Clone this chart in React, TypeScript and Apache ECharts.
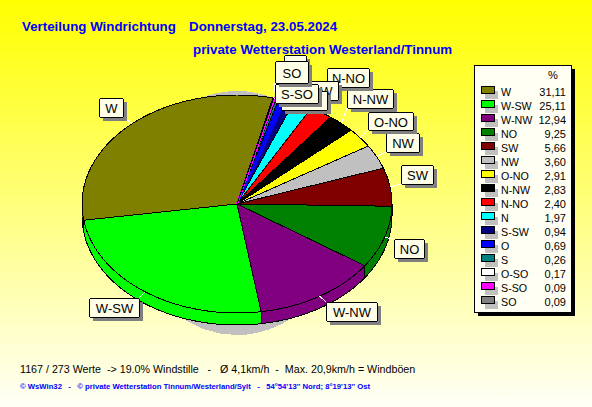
import React, { useEffect, useRef } from "react";
import * as echarts from "echarts";

const categories = ["W", "W-SW", "W-NW", "NO", "SW", "NW", "O-NO", "N-NW", "N-NO", "N", "S-SW", "O", "S", "O-SO", "S-SO", "SO"];
const percentValues = [31.11, 25.11, 12.94, 9.25, 5.66, 3.6, 2.91, 2.83, 2.4, 1.97, 0.94, 0.69, 0.26, 0.17, 0.09, 0.09];
const sliceColors = ["#808000", "#00ff00", "#800080", "#008000", "#800000", "#c0c0c0", "#ffff00", "#000000", "#ff0000", "#00ffff", "#000080", "#0000ff", "#008080", "#ffffff", "#ff00ff", "#808080"];
// labels whose boxes lie completely over their text in the picture
const coveredLabels = ["N", "O", "S", "O-SO"];
// very thin wedges that the picture shows in their own colour instead of a black outline
const selfOutlined = ["O", "S-SO"];

const FONT = "'Liberation Sans', Arial, sans-serif";
const PIE = { cx: 237, cy: 204, rx: 155, ry: 109, depth: 12, startDeg: 76.6 };
// label box: left, top, width, height
const labelBoxes: number[][] = [
  [99, 98, 24, 19], [89, 298, 50, 19], [326, 302, 51, 19], [394, 239, 30, 19],
  [401, 165, 32, 19], [386, 133, 33, 19], [368, 112, 45, 18], [347, 89, 46, 19],
  [327, 68, 42, 19], [284, 55, 22, 19], [292, 81, 46, 19], [281, 66, 22, 19],
  [283, 74, 20, 19], [281, 91, 46, 19], [275, 84, 43, 19], [275, 61, 33, 22],
];

const total = percentValues.reduce((a, b) => a + b, 0);
const sliceAngles = (i: number) => {
  let before = 0;
  for (let k = 0; k < i; k++) before += percentValues[k];
  const a0 = PIE.startDeg + (before / total) * 360;
  return [a0, a0 + (percentValues[i] / total) * 360];
};
const rimPoint = (deg: number, dy = 0): number[] => {
  const t = (deg * Math.PI) / 180;
  return [PIE.cx + PIE.rx * Math.cos(t), PIE.cy - PIE.ry * Math.sin(t) + dy];
};
const arcPoints = (a0: number, a1: number, dy = 0): number[][] => {
  const n = Math.max(2, Math.ceil((a1 - a0) / 1.5));
  const pts: number[][] = [];
  for (let j = 0; j <= n; j++) pts.push(rimPoint(a0 + ((a1 - a0) * j) / n, dy));
  return pts;
};

const topFace = (params: any) => {
  const i = params.dataIndex;
  const [a0, a1] = sliceAngles(i);
  const own = selfOutlined.includes(categories[i]);
  return {
    type: "polygon",
    shape: { points: [[PIE.cx, PIE.cy], ...arcPoints(a0, a1)] },
    style: { fill: sliceColors[i], stroke: own ? sliceColors[i] : "#000", lineWidth: own ? 2.2 : 1 },
  };
};
const sideFace = (params: any) => {
  const [a0, a1] = sliceAngles(params.dataIndex);
  const s = Math.max(a0, 180);
  const e = Math.min(a1, 360);
  if (e <= s) return { type: "group", children: [] };
  return {
    type: "polygon",
    shape: { points: [...arcPoints(s, e), ...arcPoints(s, e, PIE.depth).reverse()] },
    style: { fill: sliceColors[params.dataIndex], stroke: "#000", lineWidth: 1 },
  };
};
const labelItem = (params: any) => {
  const i = params.dataIndex;
  const [x, y, w, h] = labelBoxes[i];
  const [a0, a1] = sliceAngles(i);
  const [px, py] = rimPoint((a0 + a1) / 2);
  const qx = Math.min(Math.max(px, x), x + w);
  const qy = Math.min(Math.max(py, y), y + h);
  const children: any[] = [
    { type: "line", shape: { x1: px, y1: py, x2: qx, y2: qy }, style: { stroke: "#ffffff", lineWidth: 1 } },
    { type: "rect", shape: { x: x + 4, y: y + 4, width: w, height: h }, style: { fill: "#808080" } },
    { type: "rect", shape: { x: x + 0.5, y: y + 0.5, width: w, height: h, r: 2 }, style: { fill: "#ffffe8", stroke: "#000", lineWidth: 1 } },
  ];
  if (!coveredLabels.includes(categories[i])) {
    children.push({ type: "text", x: x + w / 2 + 0.5, y: y + h / 2 + 1, style: { text: categories[i], fill: "#000", font: `13px ${FONT}`, textAlign: "center", textVerticalAlign: "middle" } });
  }
  return { type: "group", children };
};

const legendElements = () => {
  const els: any[] = [
    { type: "rect", shape: { x: 478, y: 69, width: 97, height: 247 }, style: { fill: "#000" }, z: 10 },
    { type: "rect", shape: { x: 474.5, y: 65.5, width: 97, height: 247 }, style: { fill: "#fffff4", stroke: "#000", lineWidth: 1 }, z: 11 },
    { type: "text", x: 553, y: 75, style: { text: "%", fill: "#000", font: `11px ${FONT}`, textAlign: "center", textVerticalAlign: "middle" }, z: 12 },
  ];
  categories.forEach((c, i) => {
    const y = 91 + i * 14;
    els.push(
      { type: "rect", shape: { x: 485, y: y, width: 13, height: 8 }, style: { fill: "#c0c0c0" }, z: 12 },
      { type: "rect", shape: { x: 481.5, y: y - 4.5, width: 13, height: 7 }, style: { fill: sliceColors[i], stroke: "#000", lineWidth: 1 }, z: 13 },
      { type: "text", x: 501, y: y + 0.5, style: { text: c, fill: "#000", font: `10.7px ${FONT}`, textVerticalAlign: "middle" }, z: 13 },
      { type: "text", x: 566, y: y + 0.5, style: { text: percentValues[i].toFixed(2).replace(".", ","), fill: "#000", font: `11px ${FONT}`, textAlign: "right", textVerticalAlign: "middle" }, z: 13 },
    );
  });
  return els;
};

const blueTitle = (text: string, x: number, y: number) => ({
  type: "text", x, y, style: { text, fill: "#0000ff", font: `bold 13.33px ${FONT}`, textVerticalAlign: "middle" }, z: 1,
});

export default function App() {
  const ref = useRef<HTMLDivElement>(null);
  useEffect(() => {
    document.body.style.margin = "0";
    const chart = echarts.init(ref.current!, null, { renderer: "svg" });
    const data = percentValues.map((v, i) => ({ name: categories[i], value: v }));
    chart.setOption({
      animation: false,
      backgroundColor: {
        type: "linear", x: 0, y: 0, x2: 0, y2: 1,
        colorStops: [{ offset: 0, color: "#ffff00" }, { offset: 1, color: "#fffff8" }],
      },
      graphic: [
        blueTitle("Verteilung Windrichtung", 22, 26),
        blueTitle("Donnerstag, 23.05.2024", 189, 26),
        blueTitle("private Wetterstation Westerland/Tinnum", 193, 49),
        { type: "ellipse", shape: { cx: PIE.cx, cy: 213, rx: 108, ry: 122 }, style: { fill: "#c0c0c0" }, z: 0 },
        { type: "text", x: 20, y: 369, style: { text: "1167 / 273 Werte  -> 19.0% Windstille   -   Ø 4,1km/h  -  Max. 20,9km/h = Windböen", fill: "#000", font: `10.7px ${FONT}`, textVerticalAlign: "middle" } },
        { type: "text", x: 20, y: 386, style: { text: "© WsWin32   -   © private Wetterstation Tinnum/Westerland/Sylt   -   54°54'13'' Nord; 8°19'13'' Ost", fill: "#0000ff", font: `bold 7.7px ${FONT}`, textVerticalAlign: "middle" } },
        ...legendElements(),
      ],
      series: [
        { type: "custom", name: "side", coordinateSystem: "none", renderItem: sideFace, data, z: 2, silent: true },
        { type: "custom", name: "top", coordinateSystem: "none", renderItem: topFace, data, z: 3, silent: true },
        { type: "custom", name: "labels", coordinateSystem: "none", renderItem: labelItem, data, z: 4, silent: true },
      ],
    });
    return () => chart.dispose();
  }, []);
  return (
    <>
      <style>{`svg path, svg rect, svg ellipse { shape-rendering: crispEdges; }`}</style>
      <div ref={ref} style={{ position: "absolute", left: 0, top: 0, width: 592, height: 407 }} />
    </>
  );
}
